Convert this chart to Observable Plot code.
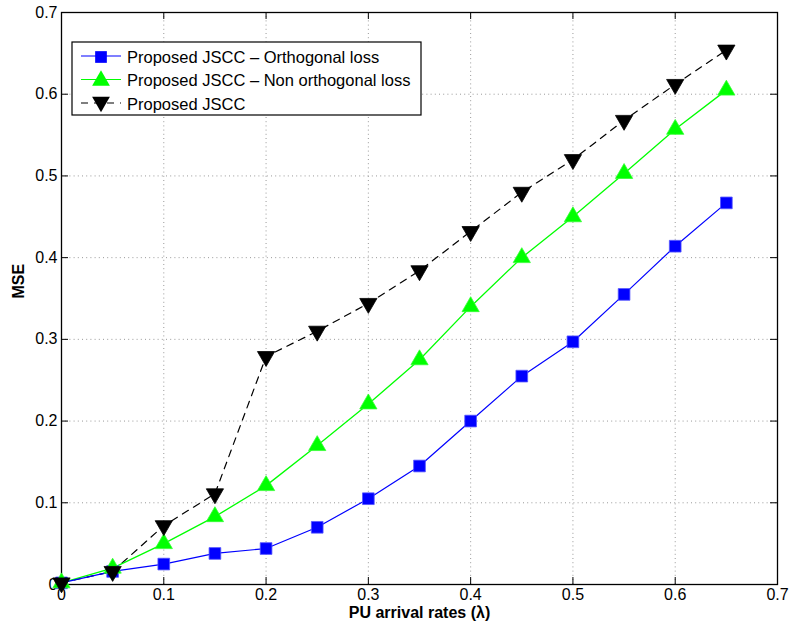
<!DOCTYPE html>
<html><head><meta charset="utf-8">
<script src="https://cdn.jsdelivr.net/npm/d3@7"></script>
<script src="https://cdn.jsdelivr.net/npm/@observablehq/plot@0.6"></script>
<style>body{margin:0;background:#fff;} svg{font-family:"Liberation Sans",Arial,sans-serif;}</style>
</head><body><div id="chart"></div>
<script>
const lambdas = [0, 0.05, 0.1, 0.15, 0.2, 0.25, 0.3, 0.35, 0.4, 0.45, 0.5, 0.55, 0.6, 0.65];
const orthogonal = [0.002, 0.016, 0.025, 0.038, 0.044, 0.07, 0.105, 0.145, 0.2, 0.255, 0.297, 0.355, 0.414, 0.467];
const nonOrthogonal = [0.002, 0.02, 0.05, 0.083, 0.121, 0.17, 0.221, 0.275, 0.34, 0.4, 0.45, 0.503, 0.557, 0.605];
const proposed = [0.002, 0.016, 0.072, 0.111, 0.279, 0.31, 0.344, 0.384, 0.432, 0.48, 0.52, 0.568, 0.612, 0.654];
const seriesNames = ["Proposed JSCC \u2013 Orthogonal loss", "Proposed JSCC \u2013 Non orthogonal loss", "Proposed JSCC"];
const xTicks = [0, 0.1, 0.2, 0.3, 0.4, 0.5, 0.6, 0.7];
const yTicks = [0, 0.1, 0.2, 0.3, 0.4, 0.5, 0.6, 0.7];

const mk = vals => lambdas.map((x, i) => ({x, y: vals[i]}));
const dOrth = mk(orthogonal), dNon = mk(nonOrthogonal), dProp = mk(proposed);

const W = 789, H = 627, mL = 61, mR = 12, mT = 12, mB = 43;
const pxX = 0.7 / (W - mL - mR), pxY = 0.7 / (H - mT - mB);
const tk = 7;
const fmt = d => d === 0 ? "0" : d3.format(".1f")(d);

const plot = Plot.plot({
  width: W, height: H,
  marginLeft: mL, marginRight: mR, marginTop: mT, marginBottom: mB,
  x: {domain: [0, 0.7]},
  y: {domain: [0, 0.7]},
  style: {fontSize: "16px", fontFamily: "Liberation Sans, Arial, sans-serif", color: "#000"},
  marks: [
    Plot.gridX(xTicks.slice(1, -1), {stroke: "#999", strokeOpacity: 1, strokeDasharray: "1,3.2", strokeWidth: 1}),
    Plot.gridY(yTicks.slice(1, -1), {stroke: "#999", strokeOpacity: 1, strokeDasharray: "1,3.2", strokeWidth: 1}),
    Plot.axisX(xTicks, {tickSize: 0, tickPadding: 4, fontSize: 16, label: null, tickFormat: fmt}),
    Plot.axisY(yTicks, {tickSize: 0, tickPadding: 4, fontSize: 16, label: null, tickFormat: fmt}),
    Plot.ruleX(xTicks, {y1: 0, y2: tk * pxY, stroke: "#000"}),
    Plot.ruleX(xTicks, {y1: 0.7, y2: 0.7 - tk * pxY, stroke: "#000"}),
    Plot.ruleY(yTicks, {x1: 0, x2: tk * pxX, stroke: "#000"}),
    Plot.ruleY(yTicks, {x1: 0.7, x2: 0.7 - tk * pxX, stroke: "#000"}),
    Plot.frame({stroke: "#000", strokeWidth: 1.3}),
    Plot.line(dProp, {x: "x", y: "y", stroke: "#000", strokeWidth: 1.2, strokeDasharray: "7,6"}),
    Plot.line(dNon, {x: "x", y: "y", stroke: "#00ff00", strokeWidth: 1.3}),
    Plot.line(dOrth, {x: "x", y: "y", stroke: "#0000ff", strokeWidth: 1.2}),
    Plot.dot(dOrth, {x: "x", y: "y", symbol: "square", r: 6.6, fill: "#0000ff", stroke: "#5555ff", strokeWidth: 0.8}),
    Plot.dot(dNon, {x: "x", y: "y", symbol: "triangle", r: 6.4, fill: "#00ff00", stroke: "#33ff33", strokeWidth: 0.8}),
    Plot.dot(dProp, {x: "x", y: "y", symbol: "triangle", rotate: 180, r: 6.4, fill: "#000", stroke: "#000", strokeWidth: 0.8}),
    Plot.text(["PU arrival rates (\u03bb)"], {frameAnchor: "bottom", dy: 33, fontWeight: "bold", fontSize: 16}),
    Plot.text(["MSE"], {frameAnchor: "left", dx: -43, rotate: -90, fontWeight: "bold", fontSize: 16})
  ]
});
document.getElementById("chart").appendChild(plot);

// Legend inside the axes
const svg = d3.select(plot);
const lg = svg.append("g").attr("transform", "translate(72,42)").attr("text-anchor", "start");
lg.append("rect").attr("width", 349).attr("height", 73).attr("fill", "#fff").attr("stroke", "#000").attr("stroke-width", 1.2);
const rows = [
  {name: seriesNames[0], color: "#0000ff", sym: d3.symbolSquare, rot: 0, dash: null},
  {name: seriesNames[1], color: "#00ff00", sym: d3.symbolTriangle, rot: 0, dash: null},
  {name: seriesNames[2], color: "#000", sym: d3.symbolTriangle, rot: 180, dash: "7,6"}
];
rows.forEach((r, i) => {
  const cy = 14 + i * 23.5;
  lg.append("line").attr("x1", 9).attr("x2", 49).attr("y1", cy).attr("y2", cy)
    .attr("stroke", r.color).attr("stroke-width", 1.2).attr("stroke-dasharray", r.dash);
  lg.append("path").attr("d", d3.symbol(r.sym, 6.6 * 6.6 * Math.PI)())
    .attr("transform", `translate(29,${cy + (r.rot ? -1 : 1)}) rotate(${r.rot})`).attr("fill", r.color);
  lg.append("text").attr("x", 55).attr("y", cy + 1).attr("dy", "0.35em").attr("text-anchor", "start")
    .attr("font-size", 16.5).attr("fill", "#000").text(r.name);
});
</script></body></html>
